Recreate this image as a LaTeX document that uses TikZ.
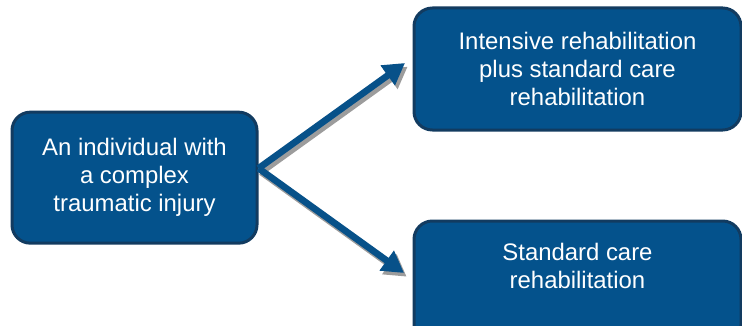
\documentclass[tikz,border=0pt]{standalone}
\usepackage{fontspec}
\setmainfont{Liberation Sans}
\usepackage{tikz}
\usetikzlibrary{shapes,arrows.meta}

\definecolor{boxblue}{HTML}{04528C}
\definecolor{boxline}{HTML}{123B60}
\definecolor{arrowblue}{HTML}{075189}
\definecolor{shadowgray}{HTML}{9C9C9C}

\begin{document}
\begin{tikzpicture}[
	stepbox/.style={draw=boxline, fill=boxblue, line width=0.09cm, rounded corners=0.55cm,
		text=white, align=center, font=\fontsize{20.4}{24}\selectfont, inner sep=0pt},
	arrowline/.style={arrowblue, line width=0.2cm, -{Triangle[length=0.64cm,width=0.7cm]}},
	arrowshade/.style={shadowgray, line width=0.2cm, -{Triangle[length=0.64cm,width=0.7cm]}}
]

	\useasboundingbox (0, 0) rectangle (22.26, 9.75);

	\node[stepbox, minimum width=7.35cm, minimum height=3.93cm] (injury) at (4.035, 4.42) {An individual with\\a complex\\traumatic injury};
	\node[stepbox, minimum width=9.81cm, minimum height=3.66cm] (intensive) at (17.325, 7.68) {Intensive rehabilitation\\plus standard care\\rehabilitation};
	\node[stepbox, minimum width=9.81cm, minimum height=3.66cm, text depth=0.96cm] (standard) at (17.325, 1.29) {Standard care\\rehabilitation};

	\coordinate (split) at ([yshift=0.28cm]injury.east);
	\coordinate (upper) at (12.15, 7.86);
	\coordinate (lower) at (12.12, 1.56);

	\draw[arrowshade] ([shift={(0.08,-0.11)}]split) -- ([shift={(0.08,-0.11)}]upper);
	\draw[arrowshade] ([shift={(0.08,-0.11)}]split) -- ([shift={(0.08,-0.11)}]lower);
	\draw[arrowline] (split) -- (upper);
	\draw[arrowline] (split) -- (lower);

\end{tikzpicture}
\end{document}
